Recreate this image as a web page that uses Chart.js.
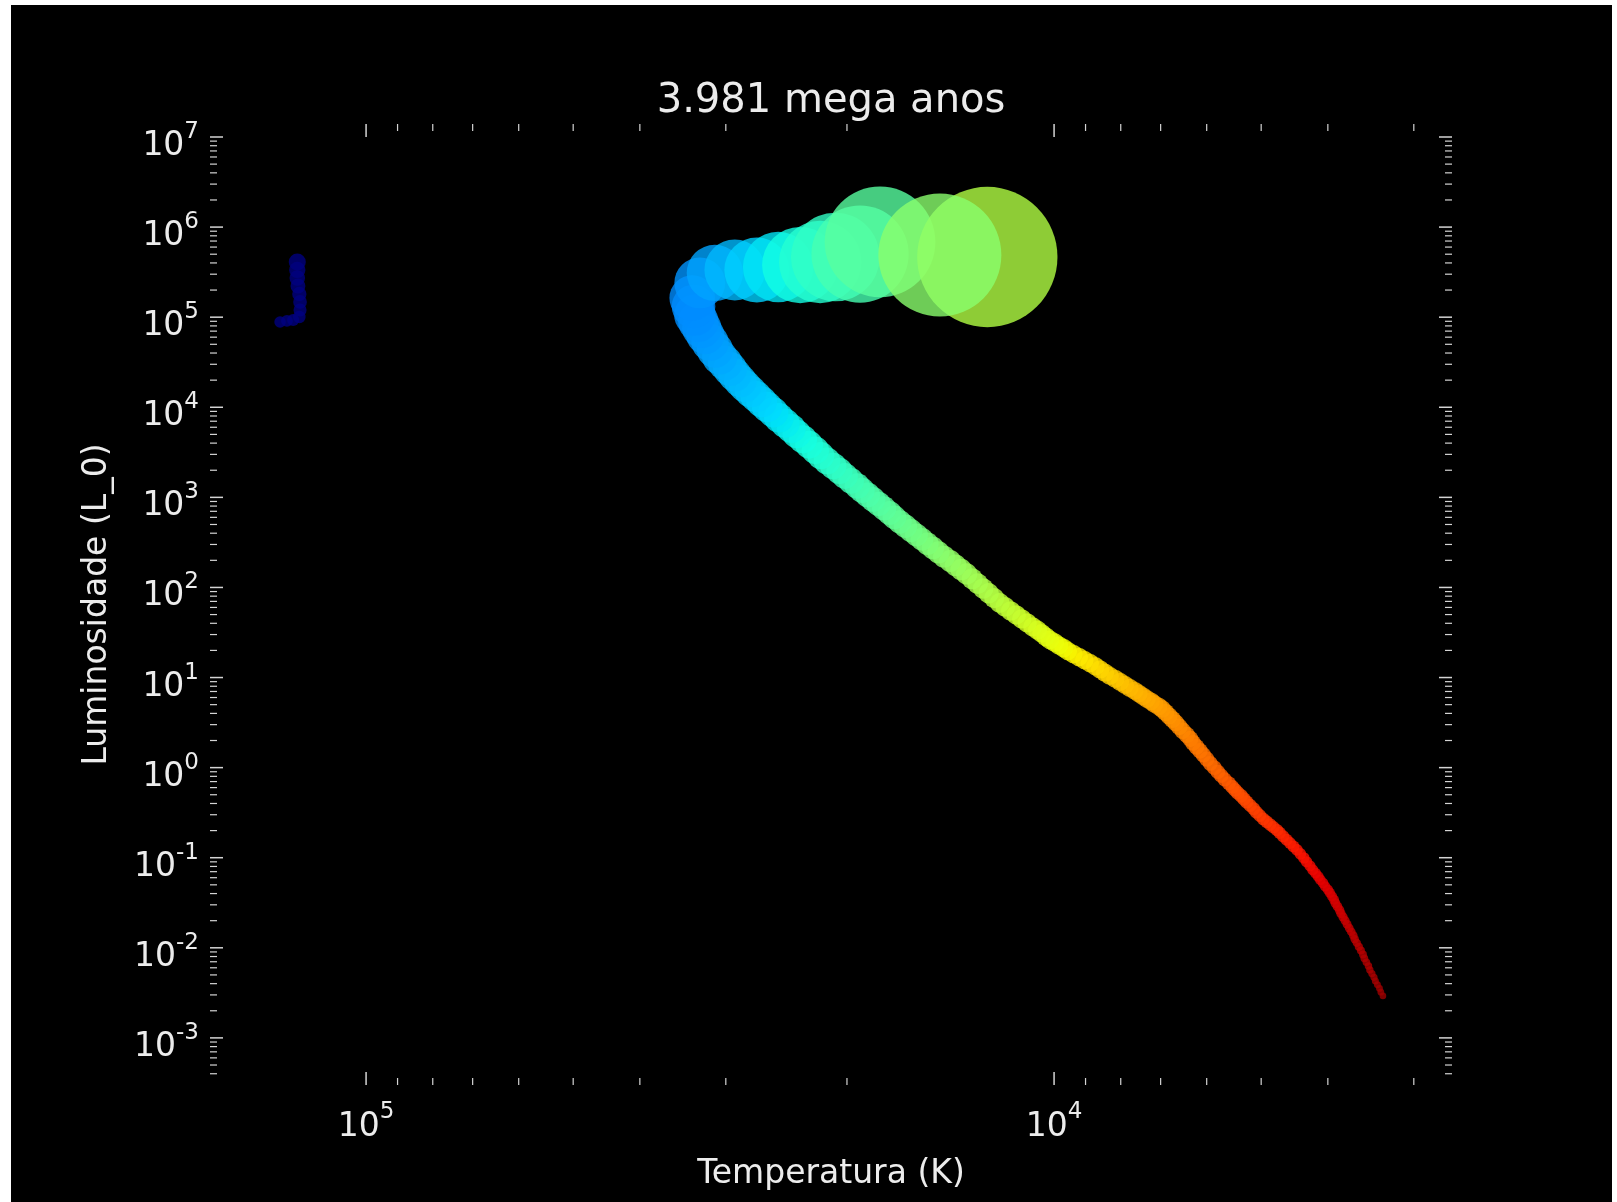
<!DOCTYPE html>
<html><head><meta charset="utf-8">
<script src="https://cdn.jsdelivr.net/npm/chart.js@4.4.1/dist/chart.umd.min.js"></script>
<style>
html,body{margin:0;padding:0;background:#ffffff;}
canvas{display:block;position:absolute;left:0;top:0;}
</style></head><body>
<canvas id="c" width="1617" height="1202"></canvas>
<script>
// ---------------- dados ----------------
const titulo = '3.981 mega anos';
const rotuloX = 'Temperatura (K)';
const rotuloY = 'Luminosidade (L_0)';

// log10 da temperatura (K) de cada estrela
const logTemperatura = [
  3.522,3.525,3.527,3.530,3.533,3.535,3.538,
  3.541,3.543,3.546,3.549,3.551,3.554,3.557,
  3.560,3.563,3.565,3.568,3.571,3.574,3.577,
  3.580,3.583,3.585,3.588,3.591,3.593,3.596,
  3.599,3.602,3.606,3.609,3.613,3.616,3.620,
  3.624,3.628,3.633,3.637,3.642,
  3.647,3.652,3.657,3.662,3.667,
  3.672,3.676,3.681,3.686,3.691,
  3.696,3.701,3.706,3.710,3.715,
  3.720,3.724,3.728,3.733,3.737,
  3.741,3.746,3.752,3.757,
  3.762,3.767,3.773,3.778,
  3.783,3.788,3.793,3.798,
  3.802,3.807,3.813,3.818,
  3.823,3.828,3.833,3.838,
  3.843,3.848,3.854,3.859,
  3.865,3.871,3.877,3.883,
  3.890,3.897,3.904,3.911,
  3.919,3.926,3.933,3.940,
  3.948,3.956,3.964,3.972,
  3.980,3.986,3.993,3.999,
  4.006,4.012,4.018,4.024,
  4.031,4.039,4.047,4.055,4.063,4.071,
  4.079,4.087,4.095,4.103,4.111,4.119,
  4.127,4.135,4.143,4.151,4.160,4.168,
  4.176,4.184,4.192,4.200,4.208,4.216,
  4.224,4.232,4.239,4.247,4.255,4.263,4.271,4.279,
  4.286,4.295,4.304,4.312,4.321,
  4.330,4.339,4.347,4.356,4.365,
  4.374,4.382,4.391,4.400,4.408,
  4.417,4.425,4.433,4.441,4.449,
  4.456,4.464,4.471,4.478,
  4.486,4.493,4.500,
  4.507,4.512,4.517,
  4.522,4.524,4.526,
  4.515,4.493,4.464,4.432,4.401,4.369,4.340,4.318,4.282,4.253,4.097,4.166,
  5.100,5.100,5.100,5.099,5.097,5.096,5.096,5.097,5.106,5.115,5.125
];
// log10 da luminosidade (L_0) de cada estrela
const logLuminosidade = [
  -2.534,-2.493,-2.451,-2.410,-2.369,-2.328,-2.286,
  -2.245,-2.202,-2.160,-2.117,-2.074,-2.031,-1.989,
  -1.946,-1.905,-1.863,-1.822,-1.781,-1.740,-1.698,
  -1.657,-1.619,-1.581,-1.543,-1.505,-1.467,-1.429,
  -1.391,-1.354,-1.318,-1.281,-1.245,-1.208,-1.171,
  -1.135,-1.091,-1.046,-1.002,-0.957,
  -0.913,-0.875,-0.838,-0.800,-0.763,
  -0.725,-0.694,-0.663,-0.631,-0.600,
  -0.569,-0.531,-0.494,-0.456,-0.419,
  -0.381,-0.348,-0.314,-0.281,-0.247,
  -0.214,-0.173,-0.131,-0.090,
  -0.048,-0.001,0.047,0.094,
  0.141,0.186,0.230,0.275,
  0.319,0.363,0.408,0.452,
  0.496,0.535,0.574,0.613,
  0.652,0.680,0.707,0.735,
  0.762,0.793,0.824,0.854,
  0.885,0.918,0.952,0.985,
  1.018,1.054,1.090,1.126,
  1.162,1.195,1.229,1.262,
  1.295,1.326,1.356,1.387,
  1.417,1.453,1.490,1.526,
  1.562,1.606,1.651,1.695,1.739,1.784,
  1.828,1.882,1.935,1.989,2.043,2.096,
  2.150,2.198,2.246,2.294,2.342,2.390,
  2.438,2.486,2.534,2.583,2.631,2.679,
  2.727,2.777,2.827,2.877,2.927,2.977,3.027,3.077,
  3.127,3.182,3.238,3.293,3.349,
  3.404,3.464,3.524,3.584,3.644,
  3.704,3.764,3.824,3.883,3.943,
  4.003,4.061,4.119,4.176,4.234,
  4.292,4.359,4.425,4.492,
  4.558,4.639,4.721,
  4.802,4.876,4.950,
  5.024,5.119,5.213,
  5.380,5.491,5.524,5.524,5.557,5.579,5.613,5.668,5.701,5.835,5.668,5.690,
  5.613,5.524,5.435,5.346,5.258,5.169,5.080,5.002,4.969,4.958,4.947
];

// eixos
const limitesX = [2640, 168600];       // K (eixo invertido)
const limitesY = [3.01e-4, 1.394e7];   // L_0
const ticksMaioresX = [1e4, 1e5];
const expoentesX = ['4', '5'];
const ticksMaioresY = [1e-3,1e-2,1e-1,1e0,1e1,1e2,1e3,1e4,1e5,1e6,1e7];
const expoentesY = ['-3','-2','-1','0','1','2','3','4','5','6','7'];

// ---------------- estilo ----------------
const FONTE = 'DejaVu Sans';
const corTexto = '#ececec';
const corTick = '#d4d4d4';
const alfa = 0.8;
const T_SOL = 5772;
const escalaRaio = 7.46;
const expoenteRaio = 0.45;

function jet(v) {
  v = Math.min(1, Math.max(0, v));
  const f = pts => {
    for (let i = 1; i < pts.length; i++) {
      if (v <= pts[i][0]) {
        const [x0, y0] = pts[i - 1], [x1, y1] = pts[i];
        return y0 + (y1 - y0) * (v - x0) / (x1 - x0);
      }
    }
    return pts[pts.length - 1][1];
  };
  return [
    f([[0,0],[0.35,0],[0.66,1],[0.89,1],[1,0.5]]),
    f([[0,0],[0.125,0],[0.375,1],[0.64,1],[0.91,0],[1,0]]),
    f([[0,0.5],[0.11,1],[0.34,1],[0.65,0],[1,0]])
  ];
}
function corPonto(p) {
  if (!p) return 'rgba(0,0,0,0)';
  const v = 0.975 - 0.71 * (Math.log10(p.x) - 3.522);
  const [r, g, b] = jet(v);
  return `rgba(${Math.round(r*255)},${Math.round(g*255)},${Math.round(b*255)},${alfa})`;
}
function raioPonto(p) {
  if (!p) return 0;
  // raio estelar R = sqrt(L) (T_sol/T)^2
  const R = Math.sqrt(p.y) * Math.pow(T_SOL / p.x, 2);
  return escalaRaio * Math.pow(R, expoenteRaio);
}

const pontos = logTemperatura.map((lt, i) => ({ x: Math.pow(10, lt), y: Math.pow(10, logLuminosidade[i]) }));

const fundo = {
  id: 'fundo',
  beforeDraw(chart) {
    const ctx = chart.ctx;
    ctx.save();
    ctx.fillStyle = '#000000';
    ctx.fillRect(11, 5, 1601, 1197);
    ctx.restore();
  }
};

const eixosMpl = {
  id: 'eixosMpl',
  afterDraw(chart) {
    const { ctx, chartArea: a } = chart;
    const sx = chart.scales.x, sy = chart.scales.y;
    ctx.save();
    ctx.strokeStyle = corTick;
    ctx.lineCap = 'butt';
    const linha = (x1, y1, x2, y2, w) => {
      ctx.lineWidth = w;
      ctx.beginPath(); ctx.moveTo(x1, y1); ctx.lineTo(x2, y2); ctx.stroke();
    };
    const MAJ = 13, MIN = 7;
    for (let e = -5; e <= 8; e++) {
      for (let k = 1; k <= 9; k++) {
        const v = k * Math.pow(10, e);
        const maj = k === 1;
        const len = maj ? MAJ : MIN, w = maj ? 1.5 : 1.2;
        if (v >= limitesY[0] && v <= limitesY[1]) {
          const py = sy.getPixelForValue(v);
          linha(a.left, py, a.left + len, py, w);
          linha(a.right, py, a.right - len, py, w);
        }
        if (v >= limitesX[0] && v <= limitesX[1]) {
          const px = sx.getPixelForValue(v);
          linha(px, a.top, px, a.top + len, w);
          linha(px, a.bottom, px, a.bottom - len, w);
        }
      }
    }
    // rótulos 10^n
    const fBase = `normal 33px "${FONTE}"`, fExp = `normal 23px "${FONTE}"`;
    ctx.fillStyle = corTexto;
    ctx.textBaseline = 'alphabetic';
    ctx.textAlign = 'left';
    const mede = (t, f) => { ctx.font = f; return ctx.measureText(t).width; };
    ticksMaioresY.forEach((v, i) => {
      const py = sy.getPixelForValue(v);
      const wb = mede('10', fBase), we = mede(expoentesY[i], fExp);
      const xr = a.left - 11;
      ctx.font = fBase; ctx.fillText('10', xr - we - wb, py + 18);
      ctx.font = fExp; ctx.fillText(expoentesY[i], xr - we, py + 1);
    });
    ticksMaioresX.forEach((v, i) => {
      const px = sx.getPixelForValue(v);
      const wb = mede('10', fBase), we = mede(expoentesX[i], fExp);
      const x0 = px - (wb + we) / 2;
      ctx.font = fBase; ctx.fillText('10', x0, a.bottom + 51);
      ctx.font = fExp; ctx.fillText(expoentesX[i], x0 + wb, a.bottom + 33);
    });
    ctx.restore();
  }
};

new Chart(document.getElementById('c'), {
  type: 'scatter',
  data: {
    datasets: [{
      data: pontos,
      pointRadius: c => raioPonto(c.raw),
      pointHoverRadius: c => raioPonto(c.raw),
      pointBackgroundColor: c => corPonto(c.raw),
      pointBorderWidth: 0,
      pointBorderColor: 'rgba(0,0,0,0)',
      pointStyle: 'circle'
    }]
  },
  options: {
    responsive: false,
    animation: false,
    devicePixelRatio: 1,
    events: [],
    layout: { padding: { left: 0, right: 165, top: 0, bottom: 0 } },
    plugins: {
      legend: { display: false },
      tooltip: { enabled: false },
      title: {
        display: true, text: titulo, fullSize: false, color: corTexto,
        font: { family: FONTE, size: 40, weight: 'normal', lineHeight: 1.1 },
        padding: { top: 80, bottom: 0 }
      }
    },
    scales: {
      x: {
        type: 'logarithmic', reverse: true, position: 'bottom',
        min: limitesX[0], max: limitesX[1],
        grid: { display: false }, border: { display: false },
        ticks: { display: false },
        title: { display: true, text: rotuloX, color: corTexto,
          font: { family: FONTE, size: 33, weight: 'normal', lineHeight: 1.2 },
          padding: { top: 0, bottom: 8 } },
        afterFit: s => { s.height = 117; }
      },
      y: {
        type: 'logarithmic', position: 'left',
        min: limitesY[0], max: limitesY[1],
        grid: { display: false }, border: { display: false },
        ticks: { display: false },
        title: { display: true, text: rotuloY, color: corTexto,
          font: { family: FONTE, size: 33, weight: 'normal', lineHeight: 1.2 },
          padding: { top: 78, bottom: 0 } },
        afterFit: s => { s.width = 210; }
      }
    }
  },
  plugins: [fundo, eixosMpl]
});
</script>
</body></html>
